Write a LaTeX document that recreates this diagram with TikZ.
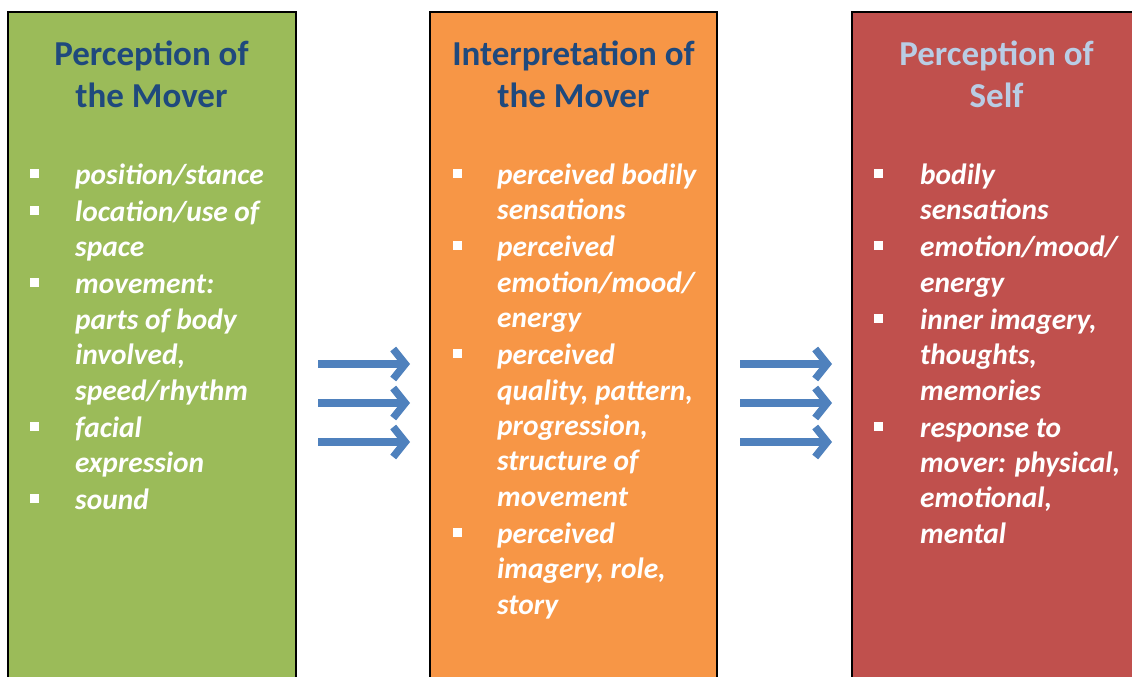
\documentclass[tikz,border=0pt]{standalone}
\usepackage{fontspec}
\setmainfont{Carlito}
\usetikzlibrary{arrows.meta}
\definecolor{moverGreen}{HTML}{9BBB59}
\definecolor{moverOrange}{HTML}{F79646}
\definecolor{selfRed}{HTML}{C0504D}
\definecolor{titleBlue}{HTML}{1F497D}
\definecolor{paleBlue}{HTML}{B9CDE5}
\definecolor{arrowBlue}{HTML}{4F81BD}

\begin{document}
\begin{tikzpicture}[x=1pt,y=-1pt,
  heading/.style={anchor=base,align=center,font=\fontsize{35}{41.7}\selectfont\bfseries},
  item/.style={anchor=base west,align=left,text=white,font=\fontsize{29.4}{35.4}\selectfont\bfseries\itshape},
  bullet/.style={fill=white,minimum size=9pt},
  border/.style={black,line width=2pt},
  flow/.style={arrowBlue,line width=7.5pt,-{Straight Barb[length=12pt,width=30pt]}}]
\tikzstyle{every node}+=[inner sep=0pt]
\useasboundingbox (0,0) rectangle (1132,677);
\fill [moverGreen] (8,12) rectangle (296,677);
\draw [border] (8,677) -- (8,12) -- (296,12) -- (296,677);
\fill [moverOrange] (430,12) rectangle (717,677);
\draw [border] (430,677) -- (430,12) -- (717,12) -- (717,677);
\fill [selfRed] (852,12) rectangle (1132,677);
\draw [border] (852,677) -- (852,12) -- (1132,12);
\node [heading,text=titleBlue] (percmover) at (151.5,107.5) {Perception of\\the Mover};
\node [heading,text=titleBlue] (intmover) at (573.5,107.5) {Interpretation of\\the Mover};
\node [heading,text=paleBlue] (percself) at (996.5,107.5) {Perception of\\Self};
\node [bullet] (pmb1) at (34,173.5) {};
\node [item] (pm1) at (75,184.5) {position/stance};
\node [bullet] (pmb2) at (34,210.5) {};
\node [item] (pm2) at (75,256.9) {location/use of\\space};
\node [bullet] (pmb3) at (34,282.9) {};
\node [item] (pm3) at (75,400.1) {movement:\\parts of body\\involved,\\speed/rhythm};
\node [bullet] (pmb4) at (34,426.1) {};
\node [item] (pm4) at (75,472.5) {facial\\expression};
\node [bullet] (pmb5) at (34,498.5) {};
\node [item] (pm5) at (75,509.5) {sound};
\node [bullet] (imb1) at (457,173.5) {};
\node [item] (im1) at (497,219.9) {perceived bodily\\sensations};
\node [bullet] (imb2) at (457,245.9) {};
\node [item] (im2) at (497,327.7) {perceived\\emotion/mood/\\energy};
\node [bullet] (imb3) at (457,353.7) {};
\node [item] (im3) at (497,506.3) {perceived\\quality, pattern,\\progression,\\structure of\\movement};
\node [bullet] (imb4) at (457,532.3) {};
\node [item] (im4) at (497,614.1) {perceived\\imagery, role,\\story};
\node [bullet] (psb1) at (878.5,173.5) {};
\node [item] (ps1) at (920,219.9) {bodily\\sensations};
\node [bullet] (psb2) at (878.5,245.9) {};
\node [item] (ps2) at (920,292.3) {emotion/mood/\\energy};
\node [bullet] (psb3) at (878.5,318.3) {};
\node [item] (ps3) at (920,400.1) {inner imagery,\\thoughts,\\memories};
\node [bullet] (psb4) at (878.5,426.1) {};
\node [item] (ps4) at (920,543.3) {response to\\mover: physical,\\emotional,\\mental};
\coordinate (la1) at (318,364);
\coordinate (lb1) at (410,364);
\coordinate (la2) at (318,403);
\coordinate (lb2) at (410,403);
\coordinate (la3) at (318,442);
\coordinate (lb3) at (410,442);
\coordinate (ra1) at (740,364);
\coordinate (rb1) at (832,364);
\coordinate (ra2) at (740,403);
\coordinate (rb2) at (832,403);
\coordinate (ra3) at (740,442);
\coordinate (rb3) at (832,442);
\draw [flow] (la1) -- (lb1);
\draw [flow] (la2) -- (lb2);
\draw [flow] (la3) -- (lb3);
\draw [flow] (ra1) -- (rb1);
\draw [flow] (ra2) -- (rb2);
\draw [flow] (ra3) -- (rb3);
\end{tikzpicture}
\end{document}
